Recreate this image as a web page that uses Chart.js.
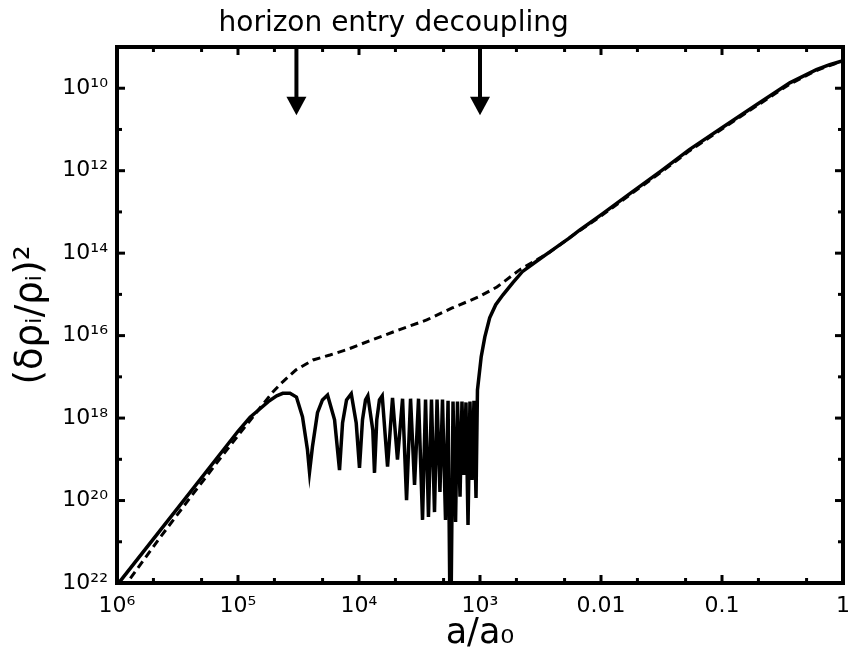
<!DOCTYPE html>
<html>
<head>
<meta charset="utf-8">
<script src="https://cdn.jsdelivr.net/npm/chart.js@4.4.1/dist/chart.umd.min.js"></script>
<style>
  html, body { margin: 0; padding: 0; background: #fff; }
  canvas { display: block; }
</style>
</head>
<body>
<canvas id="chart" width="853" height="665"></canvas>
<script>
// values, as log10 of a/a0 and of (delta rho / rho)^2
var solidLogA = [-6.05, -5.98, -5.5, -5.0, -4.90, -4.82, -4.75, -4.68, -4.63, -4.57, -4.517,
  -4.467, -4.426, -4.409, -4.385, -4.343, -4.302, -4.26,
  -4.202, -4.161, -4.136, -4.103, -4.064,
  -4.023, -3.996, -3.971, -3.946, -3.927,
  -3.886, -3.872, -3.853, -3.831, -3.808,
  -3.764, -3.723, -3.682, -3.640, -3.607, -3.574, -3.541, -3.508, -3.475, -3.450,
  -3.426, -3.401, -3.376, -3.355, -3.331, -3.310, -3.285, -3.264, -3.244, -3.223,
  -3.202, -3.186, -3.165, -3.149, -3.132, -3.116, -3.099, -3.083, -3.066, -3.050, -3.033,
  -3.021, -2.990, -2.96, -2.92, -2.87, -2.81, -2.73, -2.65, -2.53, -2.40, -2.26, -2.18,
  -2.0, -1.75, -1.5, -1.27, -1.0, -0.715, -0.44, -0.22, -0.11, 0];
var solidLogD = [-22.25, -21.98, -20.19, -18.32, -17.98, -17.78, -17.60, -17.46, -17.40, -17.40, -17.49,
  -17.97, -18.77, -19.31, -18.70, -17.87, -17.56, -17.44,
  -18.04, -19.26, -18.12, -17.56, -17.41,
  -18.12, -19.21, -18.04, -17.56, -17.46,
  -18.29, -19.33, -18.04, -17.56, -17.46,
  -19.18, -17.51, -19.01, -17.53, -19.99, -17.53, -19.62, -17.53, -20.47, -17.55,
  -20.40, -17.55, -20.28, -17.55, -19.79, -17.55, -20.47, -17.58, -24, -17.60,
  -20.52, -17.60, -19.91, -17.60, -19.38, -17.62, -20.59, -17.60, -19.50, -17.58, -19.94,
  -17.32, -16.51, -16.03, -15.57, -15.25, -15.01, -14.72, -14.45, -14.19, -13.92, -13.63, -13.45,
  -13.07, -12.53, -12.00, -11.49, -10.96, -10.40, -9.87, -9.55, -9.43, -9.33];

var dashedLogA = [-5.95, -5.90, -5.65, -5.38, -5.10, -4.85, -4.71, -4.63, -4.52, -4.38, -4.24,
  -4.10, -3.89, -3.67, -3.44, -3.23, -3.01, -2.86, -2.67, -2.43, -2.20,
  -2.0, -1.75, -1.5, -1.27, -1.0, -0.715, -0.44, -0.22, -0.11, 0];
var dashedLogD = [-22.15, -21.93, -20.92, -19.87, -18.80, -17.87, -17.36, -17.12, -16.83, -16.59, -16.47,
  -16.34, -16.10, -15.86, -15.62, -15.33, -15.06, -14.82, -14.40, -13.99, -13.50,
  -13.10, -12.56, -12.03, -11.52, -10.99, -10.43, -9.90, -9.57, -9.45, -9.34];

var xTickVals = [1e-6, 1e-5, 1e-4, 1e-3, 0.01, 0.1, 1];
var xTickLabels = ['10\u2076', '10\u2075', '10\u2074', '10\u00b3', '0.01', '0.1', '1'];
var xMinorVals = [2e-6, 5e-6, 2e-5, 5e-5, 2e-4, 5e-4, 2e-3, 5e-3, 0.02, 0.05, 0.2, 0.5];
var yTickVals = [1e-22, 1e-20, 1e-18, 1e-16, 1e-14, 1e-12, 1e-10];
var yTickLabels = ['10\u00b2\u00b2', '10\u00b2\u2070', '10\u00b9\u2078', '10\u00b9\u2076', '10\u00b9\u2074', '10\u00b9\u00b2', '10\u00b9\u2070'];
var yMinorVals = [1e-21, 1e-19, 1e-17, 1e-15, 1e-13, 1e-11];

var eventLabels = ['horizon entry', 'decoupling'];
var eventA = [3.04e-5, 1.0e-3];

function toPoints(la, ld) {
  return la.map(function(v, i) { return { x: Math.pow(10, v), y: Math.pow(10, ld[i]) }; });
}

var FONT = '"DejaVu Sans", "Liberation Sans", sans-serif';

// frame, inward ticks, arrows and the annotation text
var decorations = {
  id: 'decorations',
  afterDraw: function(chart) {
    var ctx = chart.ctx, a = chart.chartArea;
    var xs = chart.scales.x, ys = chart.scales.y;
    ctx.save();
    ctx.strokeStyle = '#000';
    ctx.fillStyle = '#000';

    function seg(x1, y1, x2, y2) {
      ctx.beginPath(); ctx.moveTo(x1, y1); ctx.lineTo(x2, y2); ctx.stroke();
    }
    ctx.lineWidth = 3;
    xTickVals.forEach(function(v) {
      var px = xs.getPixelForValue(v);
      seg(px, a.bottom, px, a.bottom - 8); seg(px, a.top, px, a.top + 8);
    });
    xMinorVals.forEach(function(v) {
      var px = xs.getPixelForValue(v);
      seg(px, a.bottom, px, a.bottom - 5); seg(px, a.top, px, a.top + 5);
    });
    yTickVals.forEach(function(v) {
      var py = ys.getPixelForValue(v);
      seg(a.left, py, a.left + 8, py); seg(a.right, py, a.right - 8, py);
    });
    yMinorVals.forEach(function(v) {
      var py = ys.getPixelForValue(v);
      seg(a.left, py, a.left + 5, py); seg(a.right, py, a.right - 5, py);
    });

    ctx.lineWidth = 4;
    ctx.strokeRect(a.left, a.top, a.right - a.left, a.bottom - a.top);

    // arrows
    var tip = ys.getPixelForValue(2.2e-11);
    var base = ys.getPixelForValue(6.2e-11);
    eventA.forEach(function(v) {
      var px = xs.getPixelForValue(v);
      ctx.lineWidth = 4;
      seg(px, a.top, px, base + 2);
      ctx.beginPath();
      ctx.moveTo(px - 10, base);
      ctx.lineTo(px + 10, base);
      ctx.lineTo(px, tip);
      ctx.closePath();
      ctx.fill();
    });

    ctx.font = '28px ' + FONT;
    ctx.textBaseline = 'alphabetic';
    ctx.textAlign = 'left';
    ctx.fillText(eventLabels[0], xs.getPixelForValue(6.9e-6), 31);
    ctx.fillText(eventLabels[1], xs.getPixelForValue(2.88e-4), 31);
    ctx.restore();
  }
};

var chart = new Chart(document.getElementById('chart'), {
  type: 'line',
  data: {
    datasets: [{
      label: 'solid',
      data: toPoints(solidLogA, solidLogD),
      borderColor: '#000',
      borderWidth: 3.5,
      pointRadius: 0,
      tension: 0,
      fill: false
    }, {
      label: 'dashed',
      data: toPoints(dashedLogA, dashedLogD),
      borderColor: '#000',
      borderWidth: 3,
      borderDash: [8, 5],
      pointRadius: 0,
      tension: 0,
      fill: false
    }]
  },
  options: {
    responsive: false,
    animation: false,
    devicePixelRatio: 1,
    layout: { padding: { top: 47, right: 10, left: 0, bottom: 0 } },
    plugins: { legend: { display: false }, tooltip: { enabled: false } },
    scales: {
      x: {
        type: 'logarithmic',
        min: 1e-6,
        max: 1,
        grid: { display: false, drawTicks: false },
        border: { display: false },
        afterBuildTicks: function(scale) {
          scale.ticks = xTickVals.map(function(v) { return { value: v }; });
        },
        afterFit: function(scale) {
          scale.height = 82;
          scale.paddingLeft = 0;
          scale.paddingRight = 0;
        },
        ticks: {
          autoSkip: false,
          maxRotation: 0,
          color: '#000',
          padding: 10,
          font: { family: FONT, size: 22 },
          callback: function(v, i) { return xTickLabels[i]; }
        },
        title: {
          display: true,
          text: 'a/a\u2080',
          color: '#000',
          font: { family: FONT, size: 35 },
          padding: { top: 0, bottom: 10 }
        }
      },
      y: {
        type: 'logarithmic',
        min: 1e-22,
        max: 1e-9,
        grid: { display: false, drawTicks: false },
        border: { display: false },
        afterBuildTicks: function(scale) {
          scale.ticks = yTickVals.map(function(v) { return { value: v }; });
        },
        afterFit: function(scale) {
          scale.width = 117;
          scale.paddingTop = 0;
          scale.paddingBottom = 0;
        },
        ticks: {
          autoSkip: false,
          color: '#000',
          padding: 9,
          font: { family: FONT, size: 22 },
          callback: function(v, i) { return yTickLabels[i]; }
        },
        title: {
          display: true,
          text: '(\u03b4\u03c1\u1d62/\u03c1\u1d62)\u00b2',
          color: '#000',
          font: { family: FONT, size: 37 },
          padding: { top: 9, bottom: 0 }
        }
      }
    }
  },
  plugins: [decorations]
});
</script>
</body>
</html>
